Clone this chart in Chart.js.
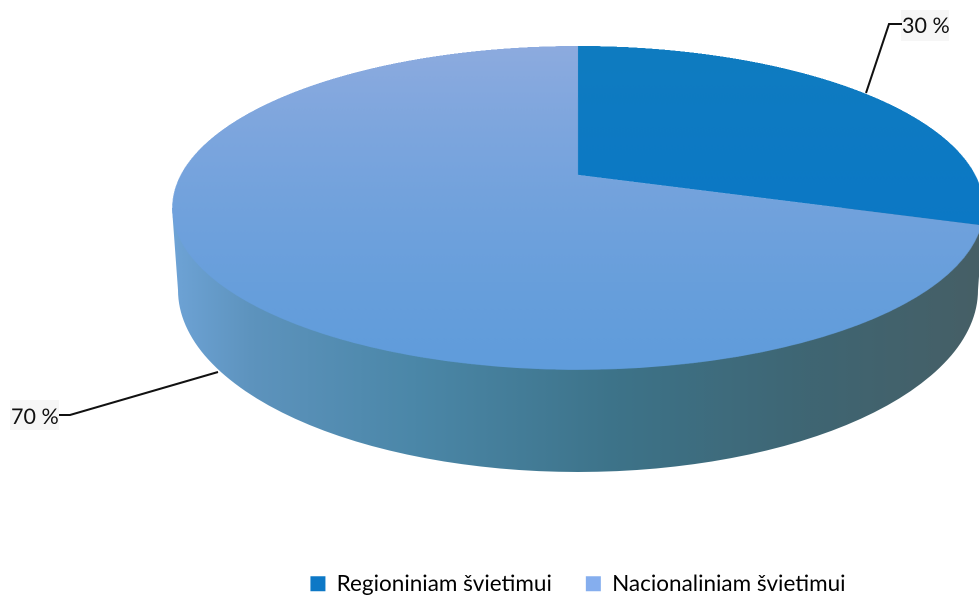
<!DOCTYPE html>
<html>
<head>
<meta charset="utf-8">
<script src="https://cdn.jsdelivr.net/npm/chart.js@4"></script>
<style>
  html, body { margin: 0; padding: 0; background: #fff; }
  #wrap { width: 979px; height: 596px; }
</style>
</head>
<body>
<div id="wrap"><canvas id="pie"></canvas></div>
<script>
const categories = ["Regioniniam švietimui", "Nacionaliniam švietimui"];
const shares = [30, 70];
const legendColors = ["#0d78c6", "#85aeee"];
const faceTop = ["#0f7cc0", "#8dabdf"];
const faceBottom = ["#0a76c8", "#5f9cdb"];

// 3D look: ellipse of the top face as seen in the picture
const face = { x: 578, y: 208, rx: 406, ry: 162, apexY: 175, fan: 2.606 };

function faceGradient(c) {
  const area = c.chart.chartArea;
  if (!area) return legendColors[c.dataIndex];
  const g = c.chart.ctx.createLinearGradient(0, area.top, 0, area.bottom);
  g.addColorStop(0, faceTop[c.dataIndex]);
  g.addColorStop(1, faceBottom[c.dataIndex]);
  return g;
}

function drawWall(ctx) {
  const g = ctx.createLinearGradient(172, 0, 979, 0);
  g.addColorStop(0, "#6ea3d6");
  g.addColorStop(0.1, "#5d93bd");
  g.addColorStop(0.3, "#4b87a8");
  g.addColorStop(0.55, "#3d7389");
  g.addColorStop(0.8, "#3f6572");
  g.addColorStop(1, "#465f66");
  ctx.fillStyle = g;
  ctx.beginPath();
  ctx.moveTo(172, 208);
  ctx.lineTo(178, 290);
  ctx.ellipse(578, 290, 400, 182, 0, Math.PI, 0, true);
  ctx.lineTo(984, 208);
  ctx.closePath();
  ctx.fill();
}

// Lays the round pie that Chart.js drew onto the tilted face, row by row
function warpFace(chart) {
  const ctx = chart.ctx;
  const ratio = chart.currentDevicePixelRatio;
  const arc = chart.getDatasetMeta(0).data[0];
  const cx = arc.x * ratio, cy = arc.y * ratio, R = arc.outerRadius * ratio;

  const copy = document.createElement("canvas");
  copy.width = chart.canvas.width;
  copy.height = chart.canvas.height;
  copy.getContext("2d").drawImage(chart.canvas, 0, 0);

  ctx.save();
  ctx.setTransform(ratio, 0, 0, ratio, 0, 0);
  ctx.clearRect(0, 0, 979, 560);
  drawWall(ctx);
  ctx.setTransform(1, 0, 0, 1, 0, 0);

  const rowAt = (y) => {
    const d = (y - face.y) / face.ry;
    const hw = face.rx * Math.sqrt(Math.max(1 - d * d, 1e-6));
    const a = face.fan * (y - face.apexY) / hw;
    return { hw, s: a / Math.sqrt(1 + a * a) };
  };
  const step = 1 / ratio;
  for (let y = face.y - face.ry; y < face.y + face.ry; y += step) {
    const row = rowAt(y + step / 2);
    const next = rowAt(y + step);
    const half = R * Math.sqrt(Math.max(1 - row.s * row.s, 1e-6));
    const sh = Math.max(1, R * (next.s - row.s));
    ctx.drawImage(copy, cx - half, cy + R * row.s, half * 2, sh,
      (face.x - row.hw) * ratio, y * ratio, row.hw * 2 * ratio, 1.3);
  }
  ctx.restore();
}

function drawLabels(chart) {
  const ctx = chart.ctx;
  ctx.save();
  ctx.fillStyle = "#f6f6f6";
  ctx.fillRect(901, 10, 48, 31);
  ctx.fillRect(10, 400, 49, 30);
  ctx.strokeStyle = "#111";
  ctx.lineWidth = 2;
  ctx.beginPath();
  ctx.moveTo(902, 24);
  ctx.lineTo(889, 24);
  ctx.lineTo(866, 93);
  ctx.moveTo(59, 415);
  ctx.lineTo(70, 415);
  ctx.lineTo(218, 372);
  ctx.stroke();
  ctx.fillStyle = "#111";
  ctx.font = "21.5px Lato";
  ctx.textBaseline = "middle";
  ctx.textAlign = "left";
  ctx.fillText(shares[0] + " %", 902, 26);
  ctx.fillText(shares[1] + " %", 11, 417);
  ctx.restore();
}

const tiltedPie = {
  id: "tiltedPie",
  afterDatasetsDraw(chart) {
    warpFace(chart);
    drawLabels(chart);
  },
};

new Chart(document.getElementById("pie"), {
  type: "pie",
  data: {
    labels: categories,
    datasets: [{ data: shares, backgroundColor: faceGradient, borderWidth: 0 }],
  },
  plugins: [tiltedPie],
  options: {
    responsive: true,
    maintainAspectRatio: false,
    devicePixelRatio: 2,
    animation: false,
    layout: { padding: { left: 177, right: 0, top: 0, bottom: -9 } },
    plugins: {
      tooltip: { enabled: false },
      legend: {
        position: "bottom",
        fullSize: false,
        labels: {
          boxWidth: 15,
          boxHeight: 15,
          padding: 34,
          color: "#404040",
          font: { family: "Lato", size: 22.5 },
          generateLabels: () =>
            categories.map((text, i) => ({
              text,
              fillStyle: legendColors[i],
              strokeStyle: legendColors[i],
              lineWidth: 0,
              index: i,
            })),
        },
      },
    },
  },
});
</script>
</body>
</html>
